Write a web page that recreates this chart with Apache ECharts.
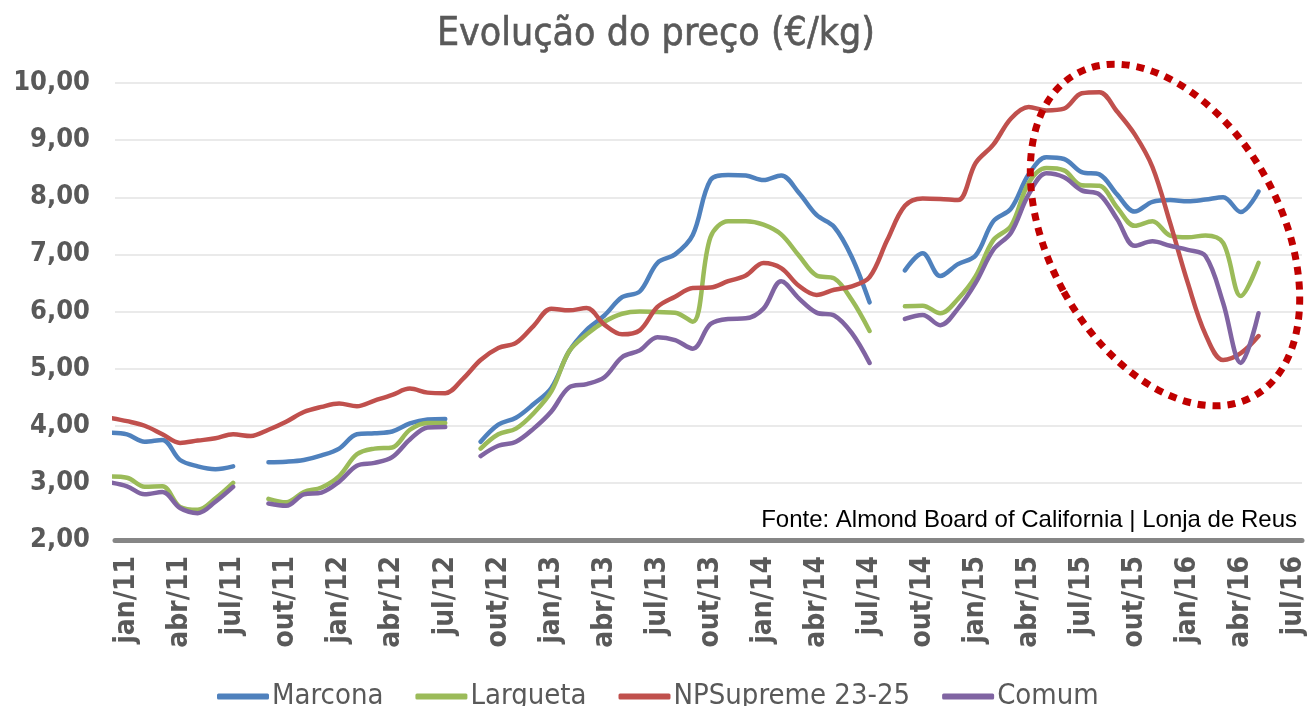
<!DOCTYPE html>
<html>
<head>
<meta charset="utf-8">
<script src="https://cdn.jsdelivr.net/npm/echarts@6/dist/echarts.min.js"></script>
<style>
  html, body { margin: 0; padding: 0; background: #fff; }
  #chart { width: 1312px; height: 706px; }
</style>
</head>
<body>
<div id="chart"></div>
<script>
// months dez/10 .. mai/16, one value per month (null = sem cotação)
var tickLabels = ['jan/11', 'abr/11', 'jul/11', 'out/11', 'jan/12', 'abr/12', 'jul/12', 'out/12',
    'jan/13', 'abr/13', 'jul/13', 'out/13', 'jan/14', 'abr/14', 'jul/14', 'out/14',
    'jan/15', 'abr/15', 'jul/15', 'out/15', 'jan/16', 'abr/16', 'jul/16'];

var marcona = [3.88,
    3.85, 3.72, 3.75, 3.40, 3.29, 3.24, 3.29, null,
    3.36, 3.37, 3.40, 3.48, 3.60, 3.85, 3.87, 3.90, 4.04, 4.11, 4.12, null,
    3.72, 4.02, 4.14, 4.38, 4.66, 5.30, 5.68, 5.93, 6.25, 6.35, 6.85, 7.00, 7.34, 8.30, 8.39, 8.38,
    8.30, 8.38, 8.08, 7.69, 7.48, 6.95, 6.16, null,
    6.72, 7.02, 6.62, 6.83, 6.98, 7.58, 7.80, 8.40, 8.70, 8.67, 8.44, 8.40, 8.05, 7.75, 7.92, 7.95,
    7.93, 7.96, 8.00, 7.74, 8.10];

var largueta = [3.11,
    3.09, 2.93, 2.94, 2.58, 2.53, 2.73, 3.00, null,
    2.72, 2.66, 2.84, 2.92, 3.12, 3.50, 3.60, 3.62, 3.93, 4.05, 4.05, null,
    3.60, 3.85, 3.95, 4.22, 4.60, 5.30, 5.60, 5.82, 5.96, 6.00, 5.99, 5.98, 5.82, 7.30, 7.58, 7.58,
    7.52, 7.35, 6.98, 6.63, 6.58, 6.20, 5.66, null,
    6.09, 6.10, 5.97, 6.22, 6.62, 7.25, 7.50, 8.25, 8.51, 8.47, 8.21, 8.20, 7.82, 7.50, 7.58, 7.33,
    7.30, 7.33, 7.20, 6.27, 6.85];

var npSupreme = [4.14,
    4.08, 4.00, 3.85, 3.70, 3.74, 3.78, 3.85, 3.82,
    3.93, 4.07, 4.24, 4.33, 4.39, 4.34, 4.44, 4.54, 4.65, 4.58, 4.57, 4.82,
    5.15, 5.36, 5.45, 5.75, 6.05, 6.02, 6.06, 5.77, 5.60, 5.67, 6.08, 6.26, 6.41, 6.42, 6.53, 6.63,
    6.85, 6.76, 6.45, 6.29, 6.38, 6.44, 6.60, 7.25,
    7.85, 7.98, 7.97, 7.95, 8.60, 8.92, 9.38, 9.58, 9.52, 9.55, 9.82, 9.84, 9.50, 9.10, 8.53, 7.55,
    6.50, 5.60, 5.15, 5.27, 5.57];

var comum = [3.01,
    2.94, 2.80, 2.84, 2.56, 2.47, 2.67, 2.93, null,
    2.64, 2.60, 2.80, 2.83, 3.02, 3.30, 3.35, 3.45, 3.76, 3.97, 3.98, null,
    3.47, 3.65, 3.72, 3.95, 4.25, 4.67, 4.73, 4.85, 5.20, 5.32, 5.55, 5.50, 5.35, 5.78, 5.87, 5.88,
    6.05, 6.53, 6.23, 5.98, 5.93, 5.62, 5.10, null,
    5.87, 5.94, 5.76, 6.05, 6.50, 7.08, 7.38, 8.05, 8.42, 8.35, 8.12, 8.05, 7.62, 7.15, 7.23, 7.15,
    7.08, 6.97, 6.15, 5.10, 5.97];

var seriesNames = ['Marcona', 'Largueta', 'NPSupreme 23-25', 'Comum'];
var seriesColors = ['#4F81BD', '#9BBB59', '#C0504D', '#8064A2'];

var labelFont = "'DejaVu Sans Condensed', 'DejaVu Sans', sans-serif";

function toPairs(arr) {
    // x = month index (0 = dez/10)
    return arr.map(function (v, i) {
        return [i, v == null ? '-' : v];
    });
}

var tickPos = tickLabels.map(function (t, i) { return 1 + i * 3; });

var chart = echarts.init(document.getElementById('chart'), null, {renderer: 'canvas'});

var series = [marcona, largueta, npSupreme, comum].map(function (arr, i) {
    return {
        name: seriesNames[i],
        type: 'line',
        data: toPairs(arr),
        smooth: 0.35,
        showSymbol: false,
        connectNulls: false,
        clip: true,
        lineStyle: {width: 4.5, color: seriesColors[i], cap: 'round', join: 'round'},
        itemStyle: {color: seriesColors[i]},
        emphasis: {disabled: true}
    };
});

var option = {
    animation: false,
    title: {
        text: 'Evolução do preço (€/kg)',
        left: 'center',
        top: 10,
        textStyle: {
            fontFamily: labelFont,
            fontSize: 39,
            fontWeight: 500,
            color: '#595959',
            textBorderColor: '#595959',
            textBorderWidth: 0.6
        }
    },
    grid: {left: 115, right: 10, top: 83, bottom: 166},
    xAxis: {
        type: 'value',
        min: 0.32,
        max: 67.46,
        axisLine: {onZero: false, lineStyle: {color: '#868686', width: 5}},
        axisTick: {show: false},
        splitLine: {show: false},
        axisLabel: {
            customValues: tickPos,
            rotate: 90,
            margin: 16,
            fontFamily: labelFont,
            fontWeight: 'bold',
            fontSize: 28,
            color: '#595959',
            formatter: function (v) {
                return tickLabels[Math.round((v - 1) / 3)];
            }
        }
    },
    yAxis: {
        type: 'value',
        min: 2,
        max: 10,
        interval: 1,
        axisLine: {show: false},
        axisTick: {show: false},
        splitLine: {lineStyle: {color: '#e3e3e3', width: 1.5}},
        axisLabel: {
            margin: 25,
            fontFamily: labelFont,
            fontWeight: 'bold',
            fontSize: 27,
            color: '#595959',
            formatter: function (v) {
                return v.toFixed(2).replace('.', ',');
            }
        }
    },
    legend: {
        data: seriesNames,
        left: 212,
        top: 677,
        icon: 'roundRect',
        itemWidth: 52,
        itemHeight: 6,
        itemGap: 32,
        textStyle: {
            fontFamily: labelFont,
            fontSize: 29,
            color: '#595959',
            padding: [0, 0, 0, -2]
        }
    },
    graphic: [
        {
            type: 'text',
            right: 15,
            top: 508,
            z: 10,
            style: {
                text: 'Fonte: Almond Board of California | Lonja de Reus',
                font: "24px 'Liberation Sans', Arial, sans-serif",
                fill: '#000'
            }
        },
        {
            // destaque vermelho pontilhado
            type: 'ellipse',
            x: 1165,
            y: 235,
            rotation: 0.5,
            z: 20,
            shape: {cx: 0, cy: 0, rx: 116, ry: 184},
            style: {
                fill: 'none',
                stroke: '#C00000',
                lineWidth: 7,
                lineDash: [8, 7]
            }
        }
    ],
    series: series
};

chart.setOption(option);
</script>
</body>
</html>
